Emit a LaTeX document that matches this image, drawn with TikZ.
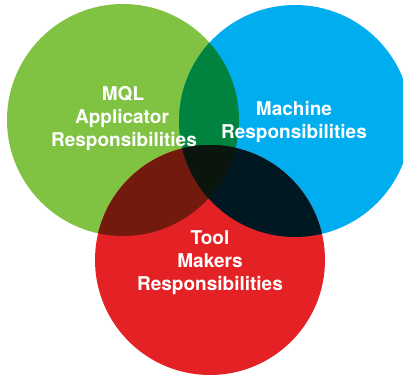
\documentclass[tikz,border=0pt]{standalone}
\usepackage{fontspec}
\setmainfont{TeX Gyre Heros}
\begin{document}
\begin{tikzpicture}[x=1pt,y=-1pt,
  lbl/.style={anchor=base,text=white,inner sep=0pt,font=\bfseries\fontsize{19}{22}\selectfont}]
\definecolor{cgreen}{HTML}{80C242}
\definecolor{cblue}{HTML}{00AEEF}
\definecolor{cred}{HTML}{E42226}
\definecolor{cgb}{HTML}{00833E}
\definecolor{cgr}{HTML}{731A0E}
\definecolor{cbr}{HTML}{001822}
\definecolor{cgbr}{HTML}{0A150D}
\useasboundingbox (0,0) rectangle (403,377);
\def\CG{(123,120) circle[radius=116pt]}
\def\CB{(295,121) circle[radius=116pt]}
\def\CR{(210,260) circle[radius=115pt]}
\fill[cgreen] \CG;
\fill[cblue] \CB;
\fill[cred] \CR;
\begin{scope}\clip \CG; \fill[cgb] \CB; \end{scope}
\begin{scope}\clip \CG; \fill[cgr] \CR; \end{scope}
\begin{scope}\clip \CB; \fill[cbr] \CR; \end{scope}
\begin{scope}\clip \CG; \clip \CB; \fill[cgbr] \CR; \end{scope}
\node[lbl] (g1) at (123,100) {MQL};
\node[lbl] (g2) at (122,123) {Applicator};
\node[lbl] (g3) at (124,146) {Responsibilities};
\node[lbl] (b1) at (294,115) {Machine};
\node[lbl] (b2) at (294,138) {Responsibilities};
\node[lbl] (r1) at (210,244) {Tool};
\node[lbl] (r2) at (210,267) {Makers};
\node[lbl] (r3) at (210,290) {Responsibilities};
\end{tikzpicture}
\end{document}
